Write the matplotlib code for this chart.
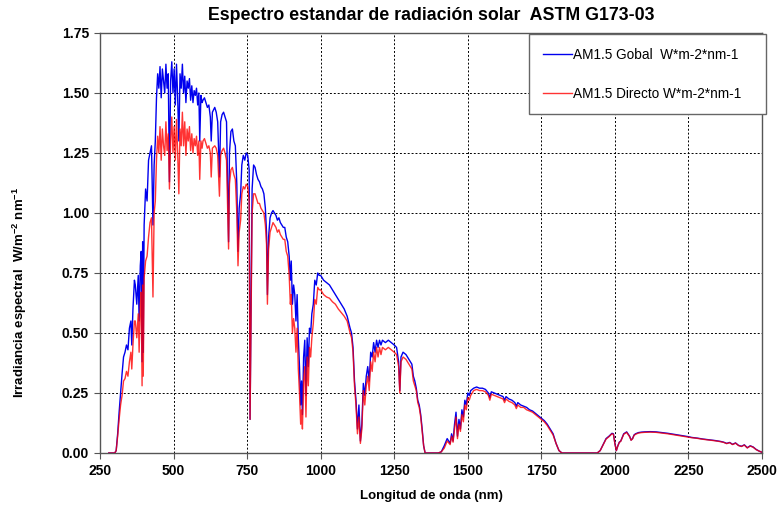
import matplotlib
matplotlib.use("Agg")
import matplotlib.pyplot as plt
import numpy as np

plt.rcParams['font.family'] = ['Liberation Sans', 'DejaVu Sans']
plt.rcParams['mathtext.fontset'] = 'custom'
plt.rcParams['mathtext.rm'] = 'Liberation Sans:bold'
plt.rcParams['mathtext.default'] = 'rm'

# ---- Spectral data (W m-2 nm-1) ----
# UV / blue band
wl_uv = [280, 300, 305, 310, 315, 320, 325, 330, 335, 340, 345, 350, 355, 358, 362,
         367, 370, 375, 380, 383, 387, 390, 393, 395, 397, 400, 405, 410, 415, 420,
         425, 430, 434]
glob_uv = [0.0, 0.0, 0.01, 0.08, 0.17, 0.25, 0.33, 0.40, 0.42, 0.45, 0.43, 0.52, 0.55, 0.45, 0.60,
           0.72, 0.70, 0.62, 0.74, 0.55, 0.78, 0.84, 0.38, 0.88, 0.42, 0.95, 1.10, 1.05, 1.22, 1.25,
           1.28, 0.95, 1.20]
dir_uv = [0.0, 0.0, 0.01, 0.07, 0.14, 0.20, 0.24, 0.30, 0.31, 0.34, 0.32, 0.38, 0.42, 0.35, 0.45,
          0.55, 0.55, 0.48, 0.58, 0.42, 0.62, 0.67, 0.28, 0.70, 0.32, 0.73, 0.80, 0.82, 0.90, 0.96,
          0.98, 0.65, 1.00]

# Visible band
wl_vis = [438, 442, 446, 450, 454, 458, 462, 466, 470, 474, 478, 482, 486, 490, 494,
          498, 502, 506, 510, 514, 518, 522, 526, 530, 534, 538, 542, 546, 550, 554,
          558, 562, 566, 570, 574, 578, 582, 586, 589, 593, 597,
          600, 605, 610, 615, 620, 625, 628, 632, 640, 645, 650, 656, 660, 665,
          670, 675, 680, 687, 690, 695, 700, 705, 710, 715, 719, 723, 728, 732, 737,
          742, 747, 752, 757, 760, 763, 767, 772, 777, 782, 787, 792, 797]
glob_vis = [1.30, 1.48, 1.58, 1.52, 1.61, 1.48, 1.60, 1.55, 1.50, 1.62, 1.52, 1.58, 1.13, 1.55, 1.63,
            1.50, 1.60, 1.45, 1.62, 1.48, 1.30, 1.58, 1.52, 1.62, 1.50, 1.57, 1.46, 1.55, 1.52, 1.56,
            1.47, 1.53, 1.46, 1.51, 1.49, 1.52, 1.45, 1.50, 1.30, 1.49, 1.46,
            1.47, 1.48, 1.46, 1.44, 1.45, 1.40, 1.30, 1.42, 1.44, 1.42, 1.38, 1.15, 1.38, 1.41,
            1.42, 1.40, 1.38, 0.88, 1.25, 1.34, 1.35, 1.30, 1.28, 1.12, 0.84, 1.02, 1.08, 1.20, 1.24,
            1.22, 1.25, 1.24, 1.18, 0.14, 0.55, 1.10, 1.20, 1.19, 1.16, 1.14, 1.13, 1.11]
dir_vis = [1.05, 1.22, 1.32, 1.25, 1.36, 1.22, 1.35, 1.28, 1.24, 1.38, 1.26, 1.33, 1.10, 1.30, 1.40,
           1.25, 1.36, 1.22, 1.39, 1.25, 1.08, 1.35, 1.28, 1.42, 1.28, 1.38, 1.24, 1.35, 1.30, 1.36,
           1.26, 1.33, 1.25, 1.31, 1.28, 1.32, 1.24, 1.30, 1.14, 1.30, 1.27,
           1.30, 1.31, 1.29, 1.27, 1.28, 1.25, 1.15, 1.27, 1.28, 1.27, 1.24, 1.07, 1.24, 1.26,
           1.27, 1.25, 1.22, 0.85, 1.12, 1.18, 1.19, 1.16, 1.14, 1.00, 0.78, 0.92, 0.97, 1.08, 1.11,
           1.10, 1.12, 1.11, 1.05, 0.14, 0.50, 1.00, 1.08, 1.08, 1.06, 1.04, 1.04, 1.02]

# Near infrared band
wl_nir = [802, 807, 812, 816, 819, 823, 828, 833, 838, 843, 848, 853, 858, 863, 868,
          873, 878, 883, 888, 893, 897, 900, 904, 908, 912, 916, 920, 924, 928, 932,
          935, 938, 942, 946, 950, 954, 958, 962, 966, 970, 975, 980, 985, 990, 995,
          1000, 1005, 1010, 1020, 1030, 1040, 1050, 1060, 1070, 1080, 1090, 1100, 1105, 1110, 1115,
          1120, 1125, 1130, 1135, 1140, 1145, 1150, 1155, 1160, 1165, 1170, 1175, 1180, 1185, 1190,
          1195, 1200, 1205, 1210, 1220, 1230, 1240, 1250, 1258, 1265, 1269, 1273, 1280, 1290, 1300,
          1310, 1315, 1320, 1325, 1330, 1335, 1340, 1345, 1350, 1355, 1400]
glob_nir = [1.10, 1.08, 1.02, 0.92, 0.66, 0.90, 0.98, 1.00, 1.01, 1.00, 0.99, 0.97, 0.98, 0.96, 0.95,
            0.94, 0.94, 0.90, 0.88, 0.82, 0.72, 0.80, 0.62, 0.70, 0.66, 0.55, 0.66, 0.48, 0.36, 0.20,
            0.30, 0.16, 0.40, 0.47, 0.24, 0.48, 0.36, 0.52, 0.50, 0.58, 0.62, 0.72, 0.70, 0.75, 0.74,
            0.74, 0.73, 0.72, 0.71, 0.70, 0.68, 0.66, 0.64, 0.62, 0.60, 0.57, 0.52, 0.50, 0.44, 0.30,
            0.22, 0.10, 0.20, 0.05, 0.12, 0.29, 0.24, 0.32, 0.36, 0.30, 0.42, 0.40, 0.46, 0.42, 0.47,
            0.44, 0.47, 0.45, 0.47, 0.46, 0.47, 0.46, 0.45, 0.44, 0.38, 0.26, 0.40, 0.42, 0.41, 0.39,
            0.37, 0.32, 0.30, 0.27, 0.22, 0.20, 0.16, 0.10, 0.03, 0.0, 0.0]
dir_nir = [1.01, 1.00, 0.95, 0.87, 0.62, 0.85, 0.92, 0.94, 0.96, 0.95, 0.94, 0.92, 0.93, 0.91, 0.90,
           0.89, 0.89, 0.84, 0.82, 0.74, 0.62, 0.66, 0.50, 0.56, 0.52, 0.42, 0.52, 0.35, 0.25, 0.12,
           0.18, 0.10, 0.30, 0.36, 0.15, 0.40, 0.28, 0.44, 0.40, 0.48, 0.54, 0.64, 0.62, 0.69, 0.68,
           0.68, 0.67, 0.66, 0.65, 0.645, 0.63, 0.62, 0.60, 0.585, 0.57, 0.55, 0.50, 0.48, 0.42, 0.28,
           0.20, 0.08, 0.15, 0.04, 0.10, 0.26, 0.20, 0.28, 0.32, 0.26, 0.38, 0.34, 0.42, 0.38, 0.44,
           0.40, 0.44, 0.41, 0.44, 0.43, 0.44, 0.43, 0.42, 0.41, 0.36, 0.25, 0.38, 0.40, 0.39, 0.37,
           0.35, 0.30, 0.28, 0.26, 0.21, 0.19, 0.15, 0.09, 0.03, 0.0, 0.0]

# Short-wave infrared band
wl_swir = [1410, 1420, 1430, 1440, 1445, 1450, 1455, 1460, 1465, 1470, 1475, 1480, 1485, 1490, 1495,
           1500, 1505, 1510, 1520, 1530, 1540, 1550, 1560, 1570, 1575, 1580, 1590, 1600, 1610, 1620,
           1625, 1630, 1640, 1650, 1660, 1665, 1670, 1680, 1690, 1700, 1710, 1720, 1730, 1740, 1750,
           1760, 1770, 1780, 1790, 1800, 1810, 1820, 1940]
glob_swir = [0.005, 0.03, 0.06, 0.04, 0.08, 0.05, 0.12, 0.17, 0.07, 0.14, 0.10, 0.18, 0.15, 0.22, 0.20,
             0.25, 0.24, 0.26, 0.27, 0.275, 0.27, 0.27, 0.265, 0.25, 0.23, 0.255, 0.25, 0.245, 0.24, 0.235,
             0.22, 0.235, 0.225, 0.22, 0.21, 0.195, 0.21, 0.20, 0.195, 0.19, 0.18, 0.175, 0.165, 0.155, 0.145,
             0.135, 0.12, 0.10, 0.08, 0.04, 0.01, 0.0, 0.0]
dir_swir = [0.005, 0.02, 0.05, 0.035, 0.07, 0.045, 0.10, 0.15, 0.06, 0.12, 0.09, 0.16, 0.13, 0.20, 0.18,
            0.23, 0.22, 0.24, 0.26, 0.265, 0.26, 0.26, 0.255, 0.24, 0.22, 0.245, 0.24, 0.235, 0.23, 0.225,
            0.21, 0.225, 0.215, 0.21, 0.20, 0.185, 0.20, 0.19, 0.19, 0.18, 0.175, 0.17, 0.16, 0.15, 0.14,
            0.13, 0.115, 0.095, 0.075, 0.04, 0.01, 0.0, 0.0]

# Far end of the spectrum
wl_ir = [1950, 1960, 1970, 1980, 1990, 1995, 2000, 2005, 2010, 2015, 2020, 2030, 2040, 2050, 2055,
         2060, 2065, 2070, 2080, 2090, 2100, 2120, 2140, 2160, 2180, 2200, 2220, 2240, 2250, 2260,
         2280, 2300, 2320, 2340, 2360, 2370, 2380, 2390, 2400, 2410, 2420, 2430, 2440, 2450, 2460,
         2470, 2480, 2490, 2500]
glob_ir = [0.01, 0.035, 0.06, 0.07, 0.082, 0.08, 0.04, 0.01, 0.03, 0.045, 0.05, 0.08, 0.088, 0.07, 0.054,
           0.06, 0.075, 0.08, 0.085, 0.087, 0.088, 0.089, 0.088, 0.085, 0.082, 0.078, 0.074, 0.070, 0.068, 0.065,
           0.062, 0.058, 0.055, 0.052, 0.048, 0.045, 0.040, 0.044, 0.036, 0.042, 0.032, 0.028, 0.034, 0.022, 0.030,
           0.025, 0.015, 0.008, 0.003]
dir_ir = [0.01, 0.034, 0.058, 0.068, 0.080, 0.078, 0.039, 0.01, 0.029, 0.044, 0.049, 0.078, 0.086, 0.068, 0.053,
          0.059, 0.073, 0.078, 0.083, 0.085, 0.086, 0.087, 0.086, 0.083, 0.080, 0.076, 0.072, 0.068, 0.066, 0.064,
          0.061, 0.057, 0.054, 0.051, 0.047, 0.044, 0.039, 0.043, 0.035, 0.041, 0.031, 0.027, 0.033, 0.021, 0.029,
          0.024, 0.014, 0.008, 0.003]

wavelength = np.array(wl_uv + wl_vis + wl_nir + wl_swir + wl_ir, dtype=float)
global_irr = np.array(glob_uv + glob_vis + glob_nir + glob_swir + glob_ir)
direct_irr = np.array(dir_uv + dir_vis + dir_nir + dir_swir + dir_ir)
assert len(wavelength) == len(global_irr) == len(direct_irr)

x_ticks = [250, 500, 750, 1000, 1250, 1500, 1750, 2000, 2250, 2500]
y_ticks = [0.0, 0.25, 0.5, 0.75, 1.0, 1.25, 1.5, 1.75]

fig = plt.figure(figsize=(7.8, 5.24), dpi=100)
ax = fig.add_axes([100 / 780, 71 / 524, 662 / 780, 420 / 524])

ax.plot(wavelength, global_irr, color='#0000ee', lw=1.0, label='AM1.5 Gobal  W*m-2*nm-1   ', zorder=3)
ax.plot(wavelength, direct_irr, color='#ff0000', lw=1.0, alpha=0.8,
        label='AM1.5 Directo W*m-2*nm-1   ', zorder=4)

ax.set_xlim(250, 2500)
ax.set_ylim(0, 1.75)
ax.set_xticks(x_ticks)
ax.set_yticks(y_ticks)
ax.set_xticklabels([str(v) for v in x_ticks])
ax.set_yticklabels([f"{v:.2f}" for v in y_ticks])
for lbl in ax.get_xticklabels() + ax.get_yticklabels():
    lbl.set_fontweight('bold')
    lbl.set_fontsize(10)

ax.grid(True, color='black', linestyle=(0, (2, 2)), linewidth=0.7)
ax.set_axisbelow(True)
for sp in ax.spines.values():
    sp.set_color('#555555')
    sp.set_linewidth(1.0)
ax.tick_params(direction='out', length=4, color='#555555', pad=4)

ax.set_title('Espectro estandar de radiación solar  ASTM G173-03',
             fontsize=12.8, fontweight='bold', pad=9)
ax.set_xlabel('Longitud de onda (nm)', fontsize=9.5, fontweight='bold')
ax.xaxis.set_label_coords(0.5, -0.087)
ax.set_ylabel(r'Irradiancia espectral  W/m$^{-2}$ nm$^{-1}$', fontsize=9.5, fontweight='bold')
ax.yaxis.set_label_coords(-0.107, 0.383)

leg = ax.legend(loc='upper right', bbox_to_anchor=(766 / 780, 1 - 34 / 524),
                bbox_transform=fig.transFigure, fontsize=9.8, frameon=True,
                fancybox=False, framealpha=1.0, edgecolor='#666666',
                labelspacing=1.85, handlelength=2.1, handletextpad=0.1,
                borderpad=1.0, borderaxespad=0)
leg.get_frame().set_linewidth(1.0)
for line in leg.get_lines():
    line.set_linewidth(1.0)
leg.set_zorder(10)

fig.savefig('out.png', dpi=100)
